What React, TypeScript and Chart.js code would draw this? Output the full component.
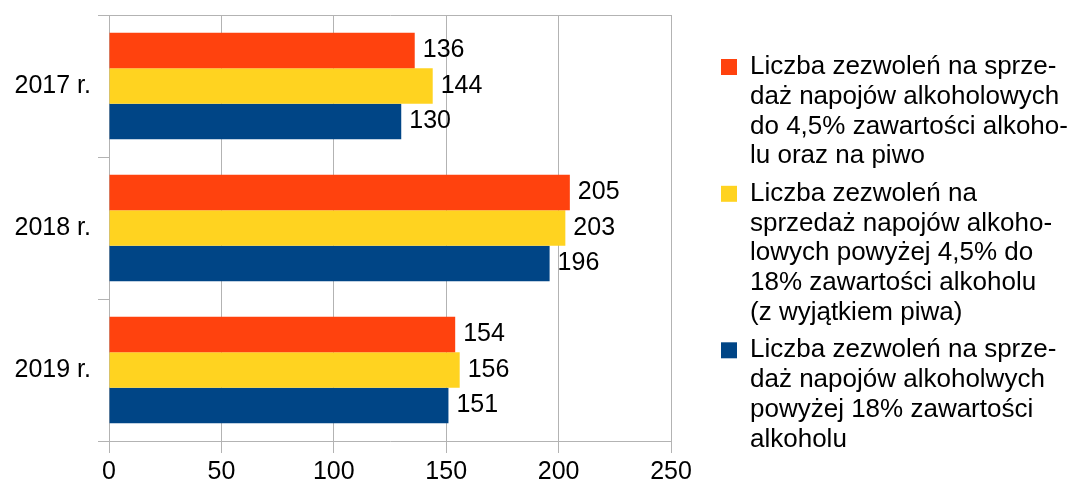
import React, { useEffect, useRef } from "react";
import { Chart, registerables } from "chart.js";

Chart.register(...registerables);

const categories = ["2017 r.", "2018 r.", "2019 r."];
const seriesA = [136, 205, 154];
const seriesB = [144, 203, 156];
const seriesC = [130, 196, 151];
const xTicks = [0, 50, 100, 150, 200, 250];

const legendA = [
  "Liczba zezwoleń na sprze-",
  "daż napojów alkoholowych",
  "do 4,5% zawartości alkoho-",
  "lu oraz na piwo",
];
const legendB = [
  "Liczba zezwoleń na",
  "sprzedaż napojów alkoho-",
  "lowych powyżej 4,5% do",
  "18% zawartości alkoholu",
  "(z wyjątkiem piwa)",
];
const legendC = [
  "Liczba zezwoleń na sprze-",
  "daż napojów alkoholwych",
  "powyżej 18% zawartości",
  "alkoholu",
];

const COLORS = ["#ff420e", "#ffd320", "#004586"];
const GRID = "#b3b3b3";
const FONT = "'Liberation Sans', Arial, sans-serif";
const FS = 25;
const LFS = 26;
const W = 1070;
const H = 486;
const PR = 0;
const PLOT_RIGHT = 671;
const LEGEND_W = 357;

const dataLabels = {
  id: "dataLabels",
  afterDatasetsDraw(chart: any) {
    const ctx = chart.ctx;
    ctx.save();
    ctx.font = `${FS}px ${FONT}`;
    ctx.fillStyle = "#000";
    ctx.textAlign = "left";
    ctx.textBaseline = "middle";
    chart.data.datasets.forEach((ds: any, di: number) => {
      const meta = chart.getDatasetMeta(di);
      meta.data.forEach((el: any, i: number) => {
        ctx.fillText(String(ds.data[i]), el.x + 8, el.y);
      });
    });
    ctx.restore();
  },
};

const noPad = (s: any) => {
  s.paddingTop = 0;
  s.paddingBottom = 0;
  s.paddingLeft = 0;
  s.paddingRight = 0;
};

export default function App() {
  const ref = useRef<HTMLCanvasElement>(null);
  useEffect(() => {
    if (!ref.current) return;
    const legendTexts = [legendA, legendB, legendC];
    const chart = new Chart(ref.current, {
      type: "bar",
      data: {
        labels: categories,
        datasets: [
          { label: legendA.join(" "), data: seriesA, backgroundColor: COLORS[0] },
          { label: legendB.join(" "), data: seriesB, backgroundColor: COLORS[1] },
          { label: legendC.join(" "), data: seriesC, backgroundColor: COLORS[2] },
        ],
      },
      options: {
        indexAxis: "y",
        responsive: false,
        animation: false,
        events: [],
        datasets: { bar: { categoryPercentage: 0.751, barPercentage: 1 } },
        layout: { padding: { top: 15, left: 0, right: PR, bottom: 0 } },
        scales: {
          x: {
            type: "linear",
            min: 0,
            max: 250,
            afterBuildTicks: (s: any) => {
              s.ticks = xTicks.map((v) => ({ value: v }));
            },
            afterFit: (s: any) => {
              s.height = 45;
              noPad(s);
            },
            grid: { color: GRID, tickColor: GRID, tickLength: 12, lineWidth: 1 },
            border: { color: GRID },
            ticks: { color: "#000", font: { family: FONT, size: FS }, padding: 4 },
          },
          y: {
            type: "category",
            afterFit: (s: any) => {
              s.width = 109;
              noPad(s);
            },
            grid: {
              offset: true,
              color: (c: any) => (c.index === 0 ? GRID : "rgba(0,0,0,0)"),
              tickColor: GRID,
              tickLength: 11,
              lineWidth: 1,
            },
            border: { color: GRID },
            ticks: { color: "#000", font: { family: FONT, size: FS }, padding: 7 },
          },
          y2: {
            type: "linear",
            position: "right",
            grid: { display: false },
            border: { display: false },
            ticks: { display: false },
            afterFit: (s: any) => {
              const lg = s.chart.legend;
              s.width = Math.max(0, s.chart.width - PR - (lg ? lg.width : 0) - PLOT_RIGHT);
              noPad(s);
            },
          },
        },
        plugins: {
          tooltip: { enabled: false },
          legend: {
            position: "right",
            align: "start",
            maxWidth: LEGEND_W,
            title: { display: true, text: " ", font: { size: 10, lineHeight: 1 }, padding: { top: 10, bottom: 11 } },
            labels: {
              boxWidth: 16,
              boxHeight: 16,
              padding: 8,
              color: "#000",
              font: { family: FONT, size: LFS, lineHeight: 29.7 / LFS },
              generateLabels: (chart: any) =>
                chart.data.datasets.map((ds: any, i: number) => ({
                  text: legendTexts[i],
                  fillStyle: ds.backgroundColor,
                  strokeStyle: ds.backgroundColor,
                  fontColor: "#000",
                  lineWidth: 0,
                  hidden: false,
                  datasetIndex: i,
                })),
            },
          },
        },
      },
      plugins: [dataLabels],
    } as any);
    return () => chart.destroy();
  }, []);
  return (
    <div style={{ position: "absolute", left: 0, top: 0, width: W, height: H, background: "#fff" }}>
      <canvas ref={ref} width={W} height={H} />
    </div>
  );
}
